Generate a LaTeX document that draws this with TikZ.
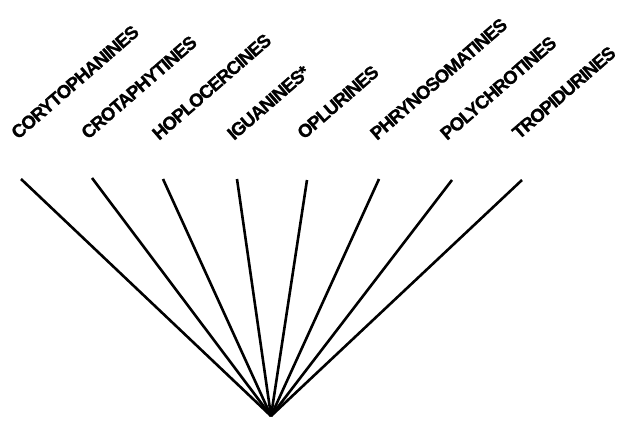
\documentclass[tikz,border=0pt]{standalone}
\usepackage{fontspec}
\setmainfont{Liberation Sans}
\newfontfamily\taxonfont[LetterSpace=-5,FakeBold=1]{Liberation Sans}
\begin{document}
\begin{tikzpicture}[
  x=1pt, y=-1pt,
  taxon/.style={anchor=base west, inner sep=0pt, rotate=41, font=\taxonfont\fontsize{18.5}{21}\selectfont\bfseries},
  branch/.style={line width=2.6pt}
]
  \useasboundingbox (0,0) rectangle (624,423);

  % Root of the star tree
  \coordinate (root) at (271,416);

  % Tips of the branches
  \coordinate (t1) at ( 21,179);
  \coordinate (t2) at ( 92,178);
  \coordinate (t3) at (163,179);
  \coordinate (t4) at (237,179);
  \coordinate (t5) at (307,180);
  \coordinate (t6) at (379,179);
  \coordinate (t7) at (452,180);
  \coordinate (t8) at (522,180);

  % Taxon labels
  \node[taxon] (coryto) at ( 18,140) {CORYTOPHANINES};
  \node[taxon] (crota)  at ( 88,140) {CROTAPHYTINES};
  \node[taxon] (hoplo)  at (159,141) {HOPLOCERCINES};
  \node[taxon] (igua)   at (234,141) {IGUANINES*};
  \node[taxon] (oplu)   at (304,140) {OPLURINES};
  \node[taxon] (phryno) at (377,141) {PHRYNOSOMATINES};
  \node[taxon] (poly)   at (447,141) {POLYCHROTINES};
  \node[taxon] (tropi)  at (519,140) {TROPIDURINES};

  % Branches
  \draw[branch] (root) -- (t1);
  \draw[branch] (root) -- (t2);
  \draw[branch] (root) -- (t3);
  \draw[branch] (root) -- (t4);
  \draw[branch] (root) -- (t5);
  \draw[branch] (root) -- (t6);
  \draw[branch] (root) -- (t7);
  \draw[branch] (root) -- (t8);
\end{tikzpicture}
\end{document}
